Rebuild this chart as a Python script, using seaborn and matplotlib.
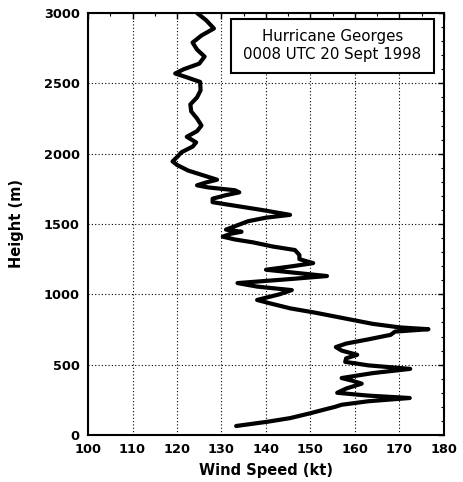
import matplotlib
matplotlib.use("Agg")
import matplotlib.pyplot as plt
import seaborn as sns
import numpy as np
import pandas as pd
from matplotlib.ticker import MultipleLocator
from matplotlib.patches import Rectangle

# Wind speed (kt) vs height (m)
height_m = [3000, 2950, 2890, 2840, 2790, 2740, 2690, 2640, 2600, 2570, 2545, 2510,
            2450, 2400, 2350, 2300, 2250, 2200, 2160, 2120, 2080, 2050, 2010, 1975,
            1945, 1920, 1880, 1845, 1815, 1795, 1775, 1760, 1740, 1725, 1705, 1680,
            1655, 1630, 1600, 1565, 1545, 1520, 1490, 1460, 1445, 1430, 1410, 1390,
            1370, 1340, 1315, 1280, 1250, 1222, 1200, 1175, 1155, 1130, 1110, 1080,
            1055, 1030, 1000, 960, 935, 900, 870, 830, 790, 765, 752, 735, 712, 680,
            650, 625, 600, 570, 545, 520, 495, 470, 440, 405, 385, 365, 330, 300, 280,
            263, 240, 215, 200, 180, 155, 120, 95, 80, 64]
speed_kt = [124.5, 126.5, 128.3, 125.5, 123.5, 124.5, 126.2, 125.0, 121.5, 119.6, 122.0, 125.2,
            125.3, 124.5, 123.0, 123.2, 124.5, 125.5, 124.5, 122.2, 124.3, 123.5, 121.0, 120.0,
            119.0, 120.0, 122.5, 126.0, 129.0, 126.5, 124.5, 127.0, 133.0, 134.0, 131.0, 128.0,
            128.0, 133.0, 139.0, 145.4, 140.0, 136.0, 133.5, 131.0, 134.5, 132.0, 130.3, 133.0,
            137.0, 141.5, 146.5, 147.5, 147.5, 150.6, 146.0, 140.0, 146.0, 153.7, 146.0, 133.6,
            138.0, 145.8, 143.0, 138.0, 141.0, 145.5, 151.0, 157.5, 164.0, 170.0, 176.5, 169.0, 168.0, 163.0,
            158.0, 155.7, 157.0, 160.5, 158.0, 157.8, 163.0, 172.4, 164.0, 157.0, 159.5, 161.5, 158.0, 156.0, 163.0,
            172.3, 163.0, 157.0, 155.5, 153.0, 150.0, 145.4, 140.5, 137.0, 133.3]

x_ticks = [100, 110, 120, 130, 140, 150, 160, 170, 180]
y_ticks = [0, 500, 1000, 1500, 2000, 2500, 3000]
title_lines = ["Hurricane Georges", "0008 UTC 20 Sept 1998"]

sns.set_theme(style="white")
plt.rcParams['font.family'] = ['DejaVu Sans']
plt.rcParams.update({"text.color": "black", "axes.labelcolor": "black",
                     "xtick.color": "black", "ytick.color": "black"})

df = pd.DataFrame({"speed": speed_kt, "height": height_m})

fig = plt.figure(figsize=(4.64, 4.82), dpi=100)
ax = fig.add_axes([88/464, 1-435/482, 356/464, 422/482])

sns.lineplot(data=df, x="speed", y="height", sort=False, estimator=None,
             color="black", linewidth=3.0, ax=ax)
for ln in ax.get_lines():
    ln.set_solid_joinstyle("round")
    ln.set_solid_capstyle("round")

ax.set_xlim(100, 180)
ax.set_ylim(0, 3000)
ax.set_xticks(x_ticks)
ax.set_yticks(y_ticks)
ax.xaxis.set_minor_locator(MultipleLocator(5))
ax.yaxis.set_minor_locator(MultipleLocator(100))
ax.tick_params(which="both", direction="in", top=True, right=True,
               color="black", labelcolor="black")
ax.tick_params(which="major", length=4, width=1, labelsize=9.3, pad=6)
ax.tick_params(which="minor", length=2, width=0.8)
for lab in ax.get_xticklabels() + ax.get_yticklabels():
    lab.set_fontweight("bold")

ax.grid(True, which="major", linestyle=(0, (1, 2)), color="black", linewidth=0.8)
for s in ax.spines.values():
    s.set_color("black")
    s.set_linewidth(1.5)

ax.set_xlabel("Wind Speed (kt)", fontsize=10.5, fontweight="bold", labelpad=5, color="black")
ax.set_ylabel("Height (m)", fontsize=10.5, fontweight="bold", labelpad=14, color="black")

x0, x1 = (231-88)/356, (434-88)/356
y0, y1 = (435-73)/422, (435-19)/422
ax.add_patch(Rectangle((x0, y0), x1-x0, y1-y0, transform=ax.transAxes,
                       facecolor="white", edgecolor="black", linewidth=1.5, zorder=5))
ax.text((x0+x1)/2, (435-36)/422, title_lines[0], transform=ax.transAxes,
        ha="center", va="center", fontsize=10.8, color="black", zorder=6)
ax.text((x0+x1)/2, (435-55)/422, title_lines[1], transform=ax.transAxes,
        ha="center", va="center", fontsize=10.8, color="black", zorder=6)

fig.savefig("out.png", dpi=100)
